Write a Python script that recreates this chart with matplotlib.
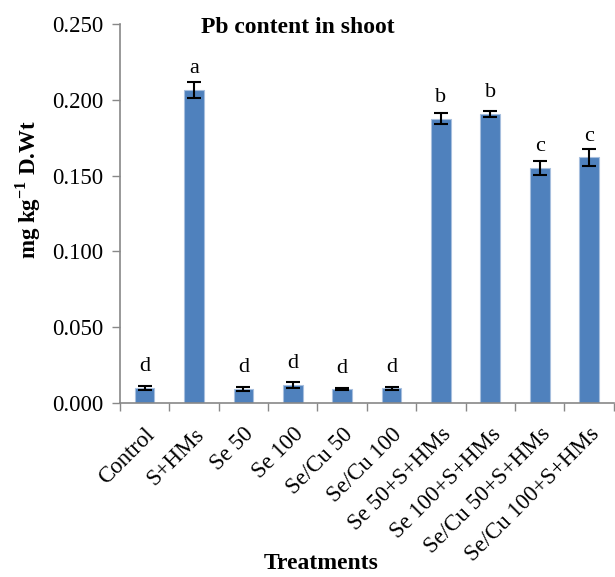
import numpy as np
import matplotlib.pyplot as plt

plt.rcParams["font.family"] = ["Liberation Serif", "DejaVu Serif"]
plt.rcParams["mathtext.fontset"] = "custom"
plt.rcParams["mathtext.rm"] = "Liberation Serif"
plt.rcParams["mathtext.bf"] = "Liberation Serif:bold"

treatments = ["Control", "S+HMs", "Se 50", "Se 100", "Se/Cu 50", "Se/Cu 100",
              "Se 50+S+HMs", "Se 100+S+HMs", "Se/Cu 50+S+HMs", "Se/Cu 100+S+HMs"]
pb_shoot = [0.0100, 0.2065, 0.0092, 0.0120, 0.0090, 0.0096,
            0.1875, 0.1907, 0.1550, 0.1620]
pb_err = [0.0015, 0.0053, 0.0014, 0.0020, 0.0006, 0.0010,
          0.0035, 0.0022, 0.0044, 0.0054]
letters = ["d", "a", "d", "d", "d", "d", "b", "b", "c", "c"]

fig = plt.figure(figsize=(6.15, 5.77), dpi=100)
ax = fig.add_axes([0.195, 0.3016, 0.803, 0.6568])

x = np.arange(len(treatments))
ax.bar(x, pb_shoot, width=0.4, color="#4F81BD", edgecolor="#A7BFDE",
       linewidth=0.8, zorder=2)
ax.errorbar(x, pb_shoot, yerr=pb_err, fmt="none", ecolor="black",
            elinewidth=1.5, capsize=5, capthick=1.5, zorder=3)

for xi, val, lab in zip(x, pb_shoot, letters):
    ax.annotate(lab, (xi, val), xytext=(0, 12), textcoords="offset points",
                ha="center", va="baseline", fontsize=16)

ax.set_xlim(-0.5, len(treatments) - 0.5)
ax.set_ylim(0, 0.25)
yticks = np.arange(0, 0.2501, 0.05)
ax.set_yticks(yticks)
ax.set_yticklabels([f"{v:.3f}" for v in yticks], fontsize=16.5)

# category boundaries get the tick marks, labels sit at bar centres
ax.set_xticks(np.arange(-0.5, len(treatments)), minor=False)
ax.set_xticklabels([])
ax.set_xticks(x, minor=True)
ax.set_xticklabels(treatments, minor=True, rotation=45, ha="right",
                   rotation_mode="anchor", fontsize=16.5)
ax.tick_params(axis="x", which="minor", length=0, pad=15)
ax.tick_params(axis="x", which="major", length=6, width=1, color="#888888",
               direction="out")
ax.tick_params(axis="y", length=6, width=1, color="#888888", pad=6)

for side in ("top", "right"):
    ax.spines[side].set_visible(False)
for side in ("left", "bottom"):
    ax.spines[side].set_color("#888888")
    ax.spines[side].set_linewidth(1.2)

fig.text(298 / 615, 1 - 33 / 577, "Pb content in shoot", ha="center",
         va="baseline", fontsize=17, fontweight="bold")
fig.text(321 / 615, 1 - 569 / 577, "Treatments", ha="center", va="baseline",
         fontsize=17, fontweight="bold")
fig.text(28 / 615, 1 - 190 / 577, r"mg kg$^{\mathbf{-1}}$ D.Wt", ha="center",
         va="center", rotation=90, fontsize=16.5, fontweight="bold")

fig.savefig("out.png", dpi=100)
